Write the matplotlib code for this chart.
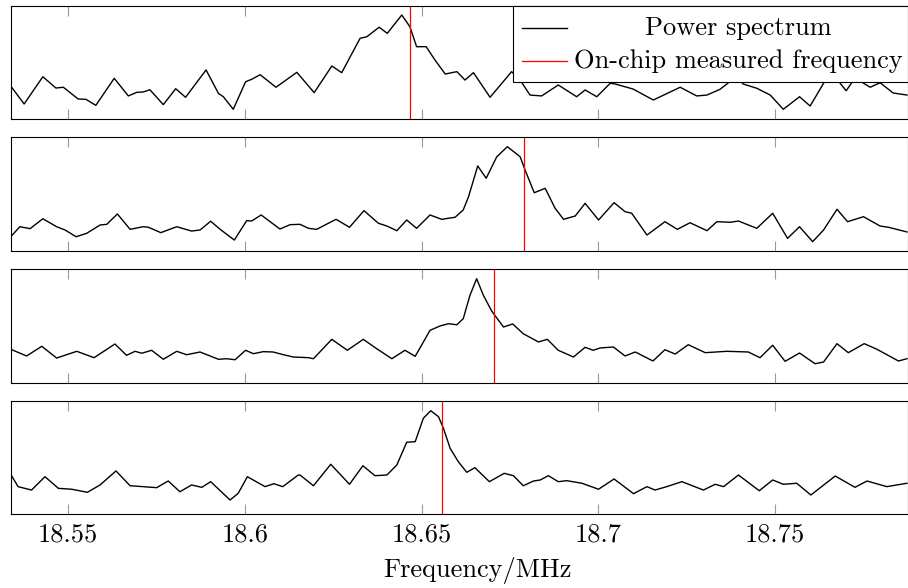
import matplotlib
matplotlib.use('Agg')

import matplotlib.pyplot as plt
from matplotlib.patches import Rectangle
from matplotlib import font_manager

# frequency axis in MHz, power normalised per panel
freq1 = [18.5337, 18.5375, 18.5428, 18.5465, 18.5486, 18.5528, 18.5550, 18.5578, 18.5630, 18.5670,
         18.5694, 18.5712, 18.5731, 18.5769, 18.5804, 18.5832, 18.5890, 18.5925, 18.5939, 18.5967,
         18.6002, 18.6019, 18.6043, 18.6088, 18.6147, 18.6196, 18.6246, 18.6274, 18.6326, 18.6345,
         18.6380, 18.6403, 18.6444, 18.6467, 18.6486, 18.6513, 18.6538, 18.6567, 18.6600, 18.6623,
         18.6647, 18.6694, 18.6755, 18.6779, 18.6807, 18.6840, 18.6887, 18.6939, 18.6963, 18.6996,
         18.7034, 18.7048, 18.7099, 18.7156, 18.7232, 18.7279, 18.7308, 18.7345, 18.7368, 18.7391,
         18.7410, 18.7449, 18.7487, 18.7524, 18.7570, 18.7600, 18.7638, 18.7659, 18.7685, 18.7702,
         18.7719, 18.7736, 18.7750, 18.7770, 18.7798, 18.7835, 18.7874]
power1 = [0.292, 0.133, 0.374, 0.274, 0.281, 0.177, 0.174, 0.121, 0.360, 0.204,
          0.236, 0.239, 0.259, 0.127, 0.268, 0.192, 0.434, 0.227, 0.197, 0.086,
          0.330, 0.351, 0.392, 0.281, 0.413, 0.233, 0.469, 0.410, 0.714, 0.728,
          0.812, 0.758, 0.920, 0.817, 0.640, 0.640, 0.522, 0.398, 0.419, 0.345,
          0.410, 0.192, 0.419, 0.345, 0.212, 0.204, 0.301, 0.197, 0.257, 0.197,
          0.316, 0.310, 0.265, 0.168, 0.281, 0.204, 0.212, 0.263, 0.319, 0.389,
          0.310, 0.272, 0.212, 0.086, 0.197, 0.115, 0.316, 0.416, 0.316, 0.250,
          0.327, 0.381, 0.319, 0.281, 0.321, 0.230, 0.212]

freq2 = [18.5337, 18.5363, 18.5392, 18.5428, 18.5467, 18.5491, 18.5522, 18.5552, 18.5590, 18.5609,
         18.5639, 18.5675, 18.5712, 18.5727, 18.5762, 18.5807, 18.5849, 18.5873, 18.5903, 18.5930,
         18.5970, 18.6005, 18.6019, 18.6046, 18.6099, 18.6128, 18.6156, 18.6180, 18.6203, 18.6258,
         18.6296, 18.6337, 18.6378, 18.6402, 18.6430, 18.6458, 18.6486, 18.6524, 18.6557, 18.6595,
         18.6618, 18.6633, 18.6659, 18.6683, 18.6713, 18.6743, 18.6779, 18.6793, 18.6819, 18.6850,
         18.6878, 18.6902, 18.6935, 18.6963, 18.7001, 18.7045, 18.7076, 18.7095, 18.7138, 18.7189,
         18.7224, 18.7260, 18.7308, 18.7336, 18.7374, 18.7397, 18.7449, 18.7494, 18.7536, 18.7570,
         18.7607, 18.7638, 18.7676, 18.7706, 18.7751, 18.7798, 18.7822, 18.7874]
power2 = [0.125, 0.213, 0.196, 0.283, 0.213, 0.184, 0.125, 0.155, 0.228, 0.234,
          0.325, 0.190, 0.213, 0.208, 0.161, 0.213, 0.175, 0.184, 0.261, 0.190,
          0.096, 0.266, 0.263, 0.316, 0.193, 0.231, 0.234, 0.199, 0.190, 0.278,
          0.208, 0.354, 0.243, 0.219, 0.178, 0.272, 0.199, 0.316, 0.278, 0.296,
          0.360, 0.476, 0.746, 0.638, 0.827, 0.915, 0.827, 0.711, 0.511, 0.550,
          0.375, 0.278, 0.307, 0.418, 0.272, 0.424, 0.345, 0.331, 0.140, 0.257,
          0.190, 0.248, 0.178, 0.257, 0.252, 0.263, 0.199, 0.331, 0.111, 0.213,
          0.082, 0.184, 0.366, 0.257, 0.301, 0.219, 0.208, 0.167]

freq3 = [18.5337, 18.5382, 18.5425, 18.5467, 18.5524, 18.5573, 18.5632, 18.5665, 18.5689, 18.5708,
         18.5736, 18.5769, 18.5807, 18.5835, 18.5873, 18.5925, 18.5948, 18.5972, 18.6002, 18.6024,
         18.6052, 18.6080, 18.6109, 18.6137, 18.6180, 18.6194, 18.6246, 18.6290, 18.6335, 18.6373,
         18.6416, 18.6453, 18.6482, 18.6524, 18.6552, 18.6576, 18.6600, 18.6618, 18.6637, 18.6656,
         18.6675, 18.6699, 18.6732, 18.6758, 18.6788, 18.6831, 18.6856, 18.6887, 18.6930, 18.6963,
         18.6986, 18.7005, 18.7043, 18.7076, 18.7105, 18.7155, 18.7189, 18.7218, 18.7255, 18.7303,
         18.7364, 18.7425, 18.7458, 18.7494, 18.7529, 18.7570, 18.7614, 18.7638, 18.7676, 18.7708,
         18.7753, 18.7789, 18.7850, 18.7874]
power3 = [0.296, 0.237, 0.322, 0.219, 0.278, 0.222, 0.342, 0.243, 0.278, 0.261,
          0.287, 0.208, 0.278, 0.248, 0.272, 0.208, 0.213, 0.204, 0.287, 0.257,
          0.275, 0.272, 0.248, 0.228, 0.222, 0.213, 0.383, 0.287, 0.383, 0.301,
          0.213, 0.287, 0.234, 0.462, 0.500, 0.520, 0.511, 0.564, 0.769, 0.915,
          0.769, 0.629, 0.491, 0.518, 0.432, 0.360, 0.383, 0.287, 0.228, 0.313,
          0.287, 0.307, 0.316, 0.237, 0.272, 0.193, 0.292, 0.254, 0.336, 0.266,
          0.278, 0.272, 0.222, 0.331, 0.190, 0.263, 0.169, 0.184, 0.345, 0.266,
          0.345, 0.296, 0.193, 0.213]

freq4 = [18.5337, 18.5358, 18.5396, 18.5434, 18.5472, 18.5510, 18.5554, 18.5590, 18.5635, 18.5675,
         18.5712, 18.5750, 18.5783, 18.5816, 18.5849, 18.5878, 18.5903, 18.5958, 18.5981, 18.6007,
         18.6057, 18.6082, 18.6107, 18.6151, 18.6156, 18.6194, 18.6243, 18.6296, 18.6334, 18.6368,
         18.6402, 18.6430, 18.6458, 18.6482, 18.6505, 18.6526, 18.6548, 18.6562, 18.6581, 18.6604,
         18.6628, 18.6651, 18.6692, 18.6734, 18.6760, 18.6788, 18.6817, 18.6836, 18.6859, 18.6887,
         18.6911, 18.6954, 18.7001, 18.7045, 18.7100, 18.7138, 18.7161, 18.7194, 18.7237, 18.7298,
         18.7331, 18.7355, 18.7397, 18.7456, 18.7494, 18.7524, 18.7562, 18.7602, 18.7671, 18.7727,
         18.7761, 18.7817, 18.7874]
power4 = [0.351, 0.242, 0.212, 0.330, 0.227, 0.219, 0.192, 0.257, 0.381, 0.250,
          0.242, 0.233, 0.292, 0.197, 0.257, 0.236, 0.286, 0.124, 0.183, 0.330,
          0.242, 0.268, 0.242, 0.345, 0.345, 0.250, 0.440, 0.263, 0.427, 0.339,
          0.345, 0.434, 0.635, 0.640, 0.847, 0.914, 0.861, 0.758, 0.581, 0.463,
          0.369, 0.410, 0.286, 0.360, 0.339, 0.250, 0.292, 0.301, 0.339, 0.286,
          0.295, 0.272, 0.219, 0.310, 0.180, 0.242, 0.212, 0.242, 0.286, 0.212,
          0.263, 0.242, 0.345, 0.206, 0.301, 0.263, 0.272, 0.168, 0.336, 0.236,
          0.292, 0.242, 0.272]

# on-chip measured frequency per measurement (MHz)
measured = [18.6467, 18.6791, 18.6705, 18.6559]

xticks = [18.55, 18.6, 18.65, 18.7, 18.75]
xticklabels = ['18.55', '18.6', '18.65', '18.7', '18.75']
XMIN, XMAX = 18.5337, 18.7877

fams = [f.name for f in font_manager.fontManager.ttflist]
plt.rcParams['font.family'] = ['cmr10'] if 'cmr10' in fams else ['DejaVu Serif']
FS = 19

series = [(freq1, power1), (freq2, power2), (freq3, power3), (freq4, power4)]
# panel extents in figure pixels (top, bottom)
panels = [(6, 119), (137, 251), (269, 383), (401, 514)]
W, H = 908.0, 588.0
left, right = 10.7, 908.0

fig = plt.figure(figsize=(W / 100, H / 100), dpi=100)
axes = []
for (top, bot), (f, p), m in zip(panels, series, measured):
    ax = fig.add_axes([left / W, 1 - bot / H, (right - left) / W, (bot - top) / H])
    ax.plot(f, p, color='black', lw=1.0, solid_joinstyle='round')
    ax.axvline(m, color='red', lw=0.9)
    ax.set_xlim(XMIN, XMAX)
    ax.set_ylim(0, 1)
    ax.set_yticks([])
    ax.set_xticks(xticks)
    ax.tick_params(axis='x', direction='in', top=True, bottom=True, length=7.5,
                   width=0.8, color='#999999', labelsize=FS, pad=6)
    for s in ax.spines.values():
        s.set_linewidth(0.8)
    axes.append(ax)

for ax in axes[:-1]:
    ax.set_xticklabels([])
axes[-1].set_xticklabels(xticklabels)
axes[-1].set_xlabel('Frequency/MHz', fontsize=FS)
# the original axis runs past the cropped right edge, so the label sits right of centre
axes[-1].xaxis.set_label_coords((477 - left) / (right - left), -0.38)

# legend drawn like the pgfplots one
ax = axes[0]
ax.add_patch(Rectangle((0.5598, 0.325), 1 - 0.5598, 0.675, transform=ax.transAxes,
                       facecolor='white', edgecolor='black', lw=0.8, zorder=5, clip_on=False))
ax.plot([0.570, 0.620], [0.805, 0.805], color='black', lw=1.0, transform=ax.transAxes, zorder=6)
ax.plot([0.570, 0.620], [0.513, 0.513], color='red', lw=0.9, transform=ax.transAxes, zorder=6)
ax.text(0.8105, 0.805, 'Power spectrum', transform=ax.transAxes, ha='center', va='center',
        fontsize=FS, zorder=6)
ax.text(0.8105, 0.513, 'On-chip measured frequency', transform=ax.transAxes, ha='center',
        va='center', fontsize=FS, zorder=6)

fig.savefig('out.png', dpi=100)
